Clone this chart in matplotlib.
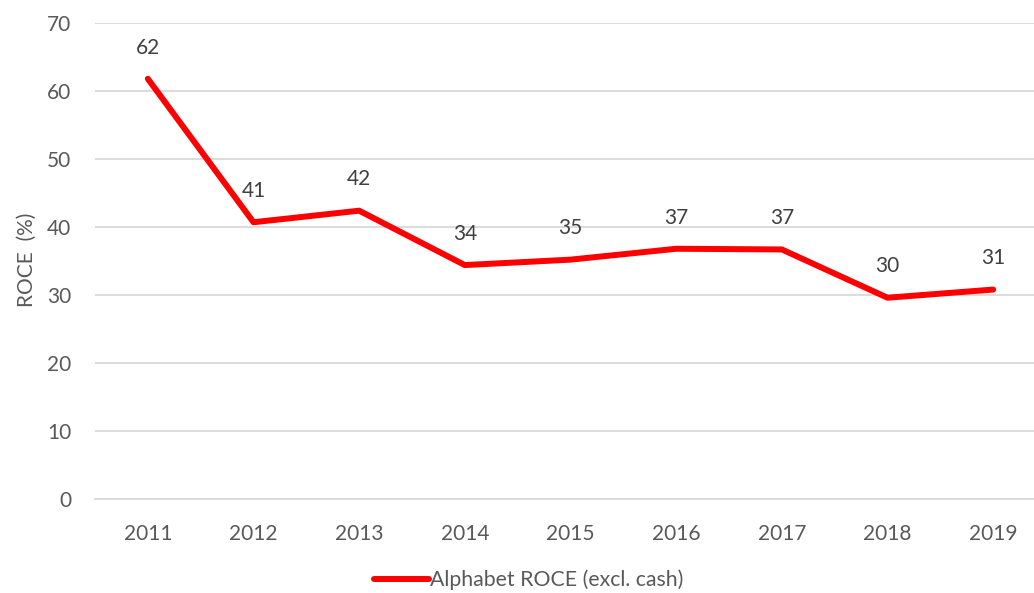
import matplotlib
matplotlib.use("Agg")
import matplotlib.pyplot as plt
from matplotlib.lines import Line2D

years = ["2011", "2012", "2013", "2014", "2015", "2016", "2017", "2018", "2019"]
roce = [61.8, 40.7, 42.4, 34.4, 35.2, 36.8, 36.7, 29.6, 30.8]
labels = ["62", "41", "42", "34", "35", "37", "37", "30", "31"]
yticks = [0, 10, 20, 30, 40, 50, 60, 70]

plt.rcParams['font.family'] = ['Lato', 'DejaVu Sans']
txt = '#595959'
fs = 15

W, H = 1034, 593
fig = plt.figure(figsize=(W/100, H/100), dpi=100)
ax = fig.add_axes([95/W, (H-499)/H, (1034-95)/W, (499-23)/H])

x = list(range(len(years)))
ax.plot(x, roce, color='#ff0000', lw=4.3, solid_capstyle='round', solid_joinstyle='round',
        label='Alphabet ROCE (excl. cash)', zorder=3)
for xi, v, lab in zip(x, roce, labels):
    ax.annotate(lab, (xi, v), xytext=(0, 22.5), textcoords='offset points',
                ha='center', va='center', fontsize=fs, color='#404040')

ax.set_ylim(0, 70)
ax.set_xlim(-0.5, 8.5 - 12/105.6)
ax.set_yticks(yticks)
ax.set_xticks(x)
ax.set_xticklabels(years)
ax.tick_params(axis='both', length=0, labelsize=fs, labelcolor=txt)
ax.tick_params(axis='y', pad=17)
ax.tick_params(axis='x', pad=18)
ax.grid(axis='y', color='#d9d9d9', lw=1.3)
ax.set_axisbelow(True)
for s in ['top', 'right', 'left']:
    ax.spines[s].set_visible(False)
ax.spines['bottom'].set_color('#d9d9d9')
ax.spines['bottom'].set_linewidth(1.3)

fig.text(27/W, 1 - 260/H, 'ROCE  (%)', rotation=90, ha='center', va='center',
         fontsize=fs, color=txt)

handle = Line2D([0], [0], color='#ff0000', lw=4.3, solid_capstyle='round')
fig.legend([handle], ['Alphabet ROCE (excl. cash)'], loc='center',
           bbox_to_anchor=(529/W, (H-580)/H), frameon=False, fontsize=15.3,
           labelcolor=txt, handlelength=2.6, handletextpad=0.05)

fig.savefig('out.png', dpi=100)
